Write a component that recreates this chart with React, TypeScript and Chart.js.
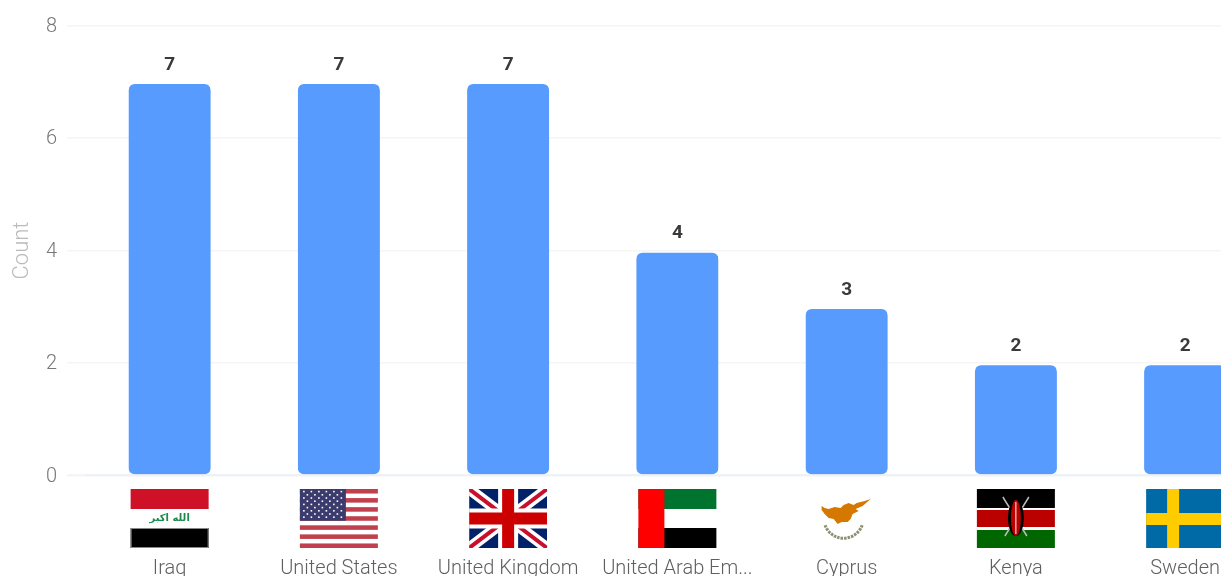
import React, { useEffect, useRef } from "react";
import { Chart, registerables } from "chart.js";

Chart.register(...registerables);

const countries = ["Iraq", "United States", "United Kingdom", "United Arab Em...", "Cyprus", "Kenya", "Sweden"];
const counts = [7, 7, 7, 4, 3, 2, 2];
const yTicks = [0, 2, 4, 6, 8];
const flagCodes = ["iq", "us", "gb", "ae", "cy", "ke", "se"];
const axisTitle = "Count";

const FONT = "Roboto, 'Open Sans', sans-serif";

function rect(c: CanvasRenderingContext2D, col: string, x: number, y: number, w: number, h: number) {
  c.fillStyle = col;
  c.fillRect(x, y, w, h);
}

function drawFlag(c: CanvasRenderingContext2D, code: string, cx: number, top: number) {
  const w = 78;
  const h = 59;
  const x = cx - w / 2;
  const y = top;
  c.save();
  if (code === "iq") {
    rect(c, "#ce1126", x, y, w, 20);
    rect(c, "#000000", x, y + 39, w, 20);
    c.strokeStyle = "#888";
    c.lineWidth = 1;
    c.strokeRect(x + 0.5, y + 39.5, w - 1, 19);
    c.fillStyle = "#1b8a4c";
    c.font = "bold 10px 'DejaVu Sans'";
    c.textAlign = "center";
    c.textBaseline = "middle";
    c.fillText("الله اكبر", cx, y + 29);
  } else if (code === "us") {
    const sh = h / 13;
    for (let i = 0; i < 13; i += 2) rect(c, "#c0414d", x, y + i * sh, w, sh);
    rect(c, "#3c3b6e", x, y, 46, sh * 7);
    c.fillStyle = "#ffffff";
    for (let r = 0; r < 9; r++) {
      const n = r % 2 === 0 ? 6 : 5;
      for (let s = 0; s < n; s++) {
        const sx = x + (r % 2 === 0 ? 4 : 7.5) + s * 7.5;
        const sy = y + 2.6 + r * 3.2;
        c.fillRect(sx - 0.8, sy - 0.8, 1.6, 1.6);
      }
    }
  } else if (code === "gb") {
    c.beginPath();
    c.rect(x, y, w, h);
    c.clip();
    rect(c, "#012169", x, y, w, h);
    c.strokeStyle = "#ffffff";
    c.lineWidth = 11;
    c.beginPath();
    c.moveTo(x, y);
    c.lineTo(x + w, y + h);
    c.moveTo(x + w, y);
    c.lineTo(x, y + h);
    c.stroke();
    c.strokeStyle = "#c8102e";
    c.lineWidth = 4;
    c.beginPath();
    c.moveTo(x, y);
    c.lineTo(x + w, y + h);
    c.moveTo(x + w, y);
    c.lineTo(x, y + h);
    c.stroke();
    rect(c, "#ffffff", cx - 10, y, 20, h);
    rect(c, "#ffffff", x, y + h / 2 - 10, w, 20);
    rect(c, "#cc0000", cx - 6, y, 12, h);
    rect(c, "#cc0000", x, y + h / 2 - 6, w, 12);
  } else if (code === "ae") {
    rect(c, "#00732f", x, y, w, 20);
    rect(c, "#000000", x, y + 39, w, 20);
    rect(c, "#ff0000", x, y, 26, h);
  } else if (code === "cy") {
    c.fillStyle = "#d57800";
    c.beginPath();
    const pts = [
      [-25, 17], [-25, 21], [-22, 25], [-18, 29], [-13, 30], [-9, 35], [-5, 33], [1, 33], [4, 30], [6, 25],
      [12, 22], [9, 20], [16, 17], [24, 10], [18, 12], [10, 14], [7, 16], [2, 14], [-3, 16], [-6, 19], [-12, 18], [-18, 20], [-22, 19],
    ];
    pts.forEach((p, i) => {
      const px = cx + p[0];
      const py = y + p[1];
      if (i === 0) c.moveTo(px, py);
      else c.lineTo(px, py);
    });
    c.closePath();
    c.fill();
    c.strokeStyle = "#8a9070";
    c.lineWidth = 3;
    c.setLineDash([2.5, 1]);
    c.beginPath();
    c.arc(cx - 3, y + 29.5, 19.7, Math.PI * 0.11, Math.PI * 0.89);
    c.stroke();
    c.setLineDash([]);
  } else if (code === "ke") {
    rect(c, "#000000", x, y, w, 19);
    rect(c, "#bb0000", x, y + 21, w, 17);
    rect(c, "#006600", x, y + 41, w, 18);
    c.strokeStyle = "#bbbbbb";
    c.lineWidth = 1.5;
    c.beginPath();
    c.moveTo(cx - 13, y + 8);
    c.lineTo(cx + 11, y + 47);
    c.moveTo(cx + 13, y + 8);
    c.lineTo(cx - 11, y + 47);
    c.stroke();
    c.fillStyle = "#000000";
    c.beginPath();
    c.ellipse(cx, y + 29, 8, 18, 0, 0, Math.PI * 2);
    c.fill();
    c.fillStyle = "#bb0000";
    c.beginPath();
    c.ellipse(cx, y + 29, 5, 18, 0, 0, Math.PI * 2);
    c.fill();
    c.strokeStyle = "#ffffff";
    c.lineWidth = 1;
    c.beginPath();
    c.moveTo(cx, y + 13);
    c.lineTo(cx, y + 45);
    c.stroke();
  } else if (code === "se") {
    rect(c, "#006aa7", x, y, w, h);
    rect(c, "#fecc00", x + 21, y, 12, h);
    rect(c, "#fecc00", x, y + 24, w, 12);
  }
  c.restore();
}

const overlayPlugin = {
  id: "overlay",
  afterDatasetsDraw(chart: any) {
    const c: CanvasRenderingContext2D = chart.ctx;
    const meta = chart.getDatasetMeta(0);
    const xs = chart.scales.x;
    c.save();
    c.font = `bold 19px ${FONT}`;
    c.fillStyle = "#3a3a3a";
    c.textAlign = "center";
    c.textBaseline = "middle";
    meta.data.forEach((bar: any, i: number) => {
      c.fillText(String(counts[i]), bar.x, bar.y - 17);
    });
    c.restore();
    flagCodes.forEach((code, i) => {
      drawFlag(c, code, xs.getPixelForTick(i), chart.chartArea.bottom + 13.5);
    });
  },
};

export default function App() {
  const ref = useRef<HTMLCanvasElement | null>(null);
  useEffect(() => {
    const chart = new Chart(ref.current as HTMLCanvasElement, {
      type: "bar",
      data: {
        labels: countries,
        datasets: [
          {
            data: counts,
            backgroundColor: "#589bff",
            borderColor: "rgba(255,255,255,0)",
            borderWidth: { top: 2.5, left: 0, right: 0, bottom: 0 },
            borderRadius: { topLeft: 9, topRight: 9, bottomLeft: 6, bottomRight: 6 },
            borderSkipped: false,
            barThickness: 82,
          },
        ],
      },
      options: {
        animation: false,
        responsive: false,
        layout: { padding: { top: 25.5, left: 0, right: 0, bottom: 0 } },
        plugins: { legend: { display: false }, tooltip: { enabled: false } },
        scales: {
          x: {
            grid: { display: false, drawTicks: false },
            border: { display: false },
            ticks: {
              autoSkip: false,
              maxRotation: 0,
              minRotation: 0,
              padding: 81,
              color: "#5f5f5f",
              font: { family: FONT, size: 20, weight: "300" },
            },
            afterFit(s: any) {
              s.height = 124.5;
            },
          },
          y: {
            min: 0,
            max: 8,
            afterBuildTicks(s: any) {
              s.ticks = yTicks.map((v) => ({ value: v }));
            },
            grid: {
              color: (ctx: any) => (ctx.tick && ctx.tick.value === 0 ? "#eef1f5" : "#f5f5f5"),
              tickColor: "#f5f5f5",
              lineWidth: (ctx: any) => (ctx.tick && ctx.tick.value === 0 ? 2.5 : 1.5),
              tickLength: 18,
            },
            border: { display: false },
            title: {
              display: true,
              text: axisTitle,
              color: "#bbbbbb",
              font: { family: FONT, size: 22, weight: "300" },
              padding: { top: 9, bottom: 0 },
            },
            ticks: {
              padding: 10,
              labelOffset: 1,
              color: "#777777",
              font: { family: FONT, size: 20, weight: "300" },
            },
            afterFit(s: any) {
              s.width = 85;
            },
          },
        },
      },
      plugins: [overlayPlugin],
    } as any);
    return () => chart.destroy();
  }, []);
  return (
    <div style={{ position: "absolute", left: 0, top: 0, width: 1221, height: 576, overflow: "hidden", background: "#fff" }}>
      <canvas ref={ref} width={1301} height={600} style={{ display: "block" }} />
    </div>
  );
}
